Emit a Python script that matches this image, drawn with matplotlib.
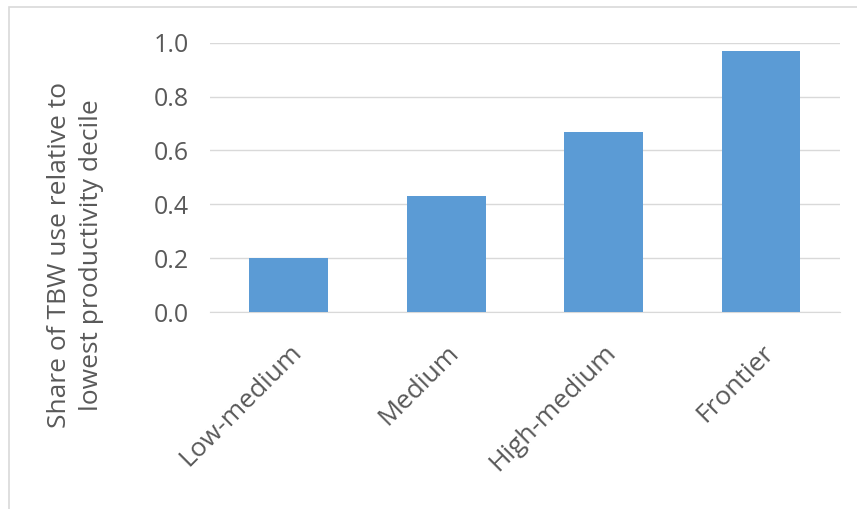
import matplotlib.pyplot as plt
from matplotlib.patches import Rectangle

categorias = ['Low-medium', 'Medium', 'High-medium', 'Frontier']
valores = [0.20, 0.43, 0.67, 0.97]
y_ticks = [0.0, 0.2, 0.4, 0.6, 0.8, 1.0]
etiqueta_y = 'Share of TBW use relative to\nlowest productivity decile'

plt.rcParams['font.family'] = ['Open Sans', 'DejaVu Sans']
gris = '#595959'

fig = plt.figure(figsize=(8.57, 5.09), dpi=100)
ax = fig.add_axes([0.245, 0.387, 0.735, 0.529])

# marco del area del grafico
fig.patches.append(Rectangle((0.011, -0.01), 1.0, 0.997, transform=fig.transFigure,
                             fill=False, edgecolor='#d9d9d9', linewidth=1.2))

x = range(len(categorias))
ax.bar(x, valores, width=0.5, color='#5b9bd5', zorder=3)

ax.set_xlim(-0.5, len(categorias) - 0.5)
ax.set_ylim(0, 1.0)
ax.set_yticks(y_ticks)
ax.set_yticklabels([f'{v:.1f}' for v in y_ticks], fontsize=18, color=gris)
ax.set_xticks(list(x))
ax.set_xticklabels(categorias, rotation=45, ha='right', rotation_mode='anchor',
                   fontsize=19, color=gris)
ax.tick_params(axis='y', length=0, pad=15)
ax.tick_params(axis='x', length=0, pad=20)

ax.grid(True, axis='y', color='#d9d9d9', linewidth=1, zorder=0)
for lado in ['top', 'right', 'left']:
    ax.spines[lado].set_visible(False)
ax.spines['bottom'].set_color('#d9d9d9')

ax.set_ylabel(etiqueta_y, fontsize=19, color=gris, linespacing=1.35)
ax.yaxis.set_label_coords(-0.168, 0.21)

plt.savefig('out.png', dpi=100)
